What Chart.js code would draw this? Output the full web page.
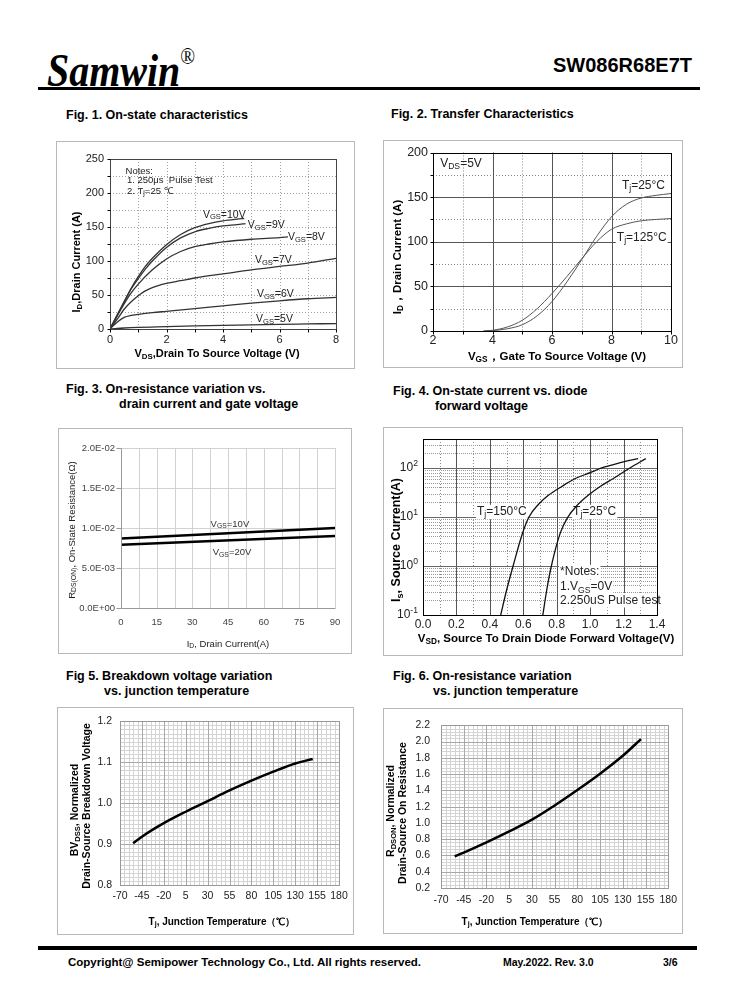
<!DOCTYPE html>
<html>
<head>
<meta charset="utf-8">
<script src="https://cdn.jsdelivr.net/npm/chart.js@4.4.0/dist/chart.umd.min.js"></script>
<style>
body { margin: 0; background: #fff; }
#page { position: relative; width: 738px; height: 1000px; overflow: hidden; background: #fff;
        font-family: "Liberation Sans", Arial, sans-serif; color: #000; }
.abs { position: absolute; white-space: nowrap; }
.box { position: absolute; border: 1.5px solid #b8b8b8; box-sizing: border-box; }
canvas { position: absolute; }
.fig { position: absolute; white-space: nowrap; font-weight: bold; font-size: 12.5px; line-height: 15px; }
</style>
</head>
<body>
<div id="page">
  <div class="abs" style="left:47px;top:33px;font:italic bold 47px 'Liberation Serif',serif;line-height:47px;transform:scaleX(0.85);transform-origin:0 0;">Samwin<span style="font-size:23px;vertical-align:22px;font-style:normal;font-weight:normal;">®</span></div>
  <div class="abs" style="right:46px;top:53px;font:bold 20px 'Liberation Sans',Arial,sans-serif;line-height:24px;">SW086R68E7T</div>
  <div class="abs" style="left:38px;top:87px;width:662px;height:3px;background:#000;"></div>

  <div class="fig" style="left:66px;top:108px;">Fig. 1. On-state characteristics</div>
  <div class="fig" style="left:391px;top:107px;">Fig. 2. Transfer Characteristics</div>
  <div class="fig" style="left:66px;top:382px;">Fig. 3. On-resistance variation vs.</div>
  <div class="fig" style="left:119px;top:397px;">drain current and gate voltage</div>
  <div class="fig" style="left:393px;top:384px;">Fig. 4. On-state current vs. diode</div>
  <div class="fig" style="left:435px;top:399px;">forward voltage</div>
  <div class="fig" style="left:66px;top:669px;">Fig 5. Breakdown voltage variation</div>
  <div class="fig" style="left:104px;top:684px;">vs. junction temperature</div>
  <div class="fig" style="left:393px;top:669px;">Fig. 6. On-resistance variation</div>
  <div class="fig" style="left:433px;top:684px;">vs. junction temperature</div>

  <div class="abs" style="left:38px;top:946px;width:659px;height:4px;background:#000;"></div>
  <div class="abs" style="left:68px;top:955px;font:bold 11.5px 'Liberation Sans',Arial,sans-serif;line-height:14px;">Copyright@ Semipower Technology Co., Ltd. All rights reserved.</div>
  <div class="abs" style="left:503px;top:956px;font:bold 10.5px 'Liberation Sans',Arial,sans-serif;line-height:13px;">May.2022. Rev. 3.0</div>
  <div class="abs" style="left:663px;top:956px;font:bold 10.5px 'Liberation Sans',Arial,sans-serif;line-height:13px;">3/6</div>
</div>

<script>
// ---- data ----
// Fig. 1  [VDS (V), ID (A)]
const f1Vgs10 = [[0,0],[0.25,20],[0.5,40],[0.75,60],[1,77],[1.25,92],[1.5,104],[2,124],[2.5,139],[3,149],[3.5,155],[4,159],[4.5,161.5],[4.75,162.5]];
const f1Vgs9  = [[0,0],[0.25,20],[0.5,40],[0.75,59],[1,74],[1.25,88],[1.5,100],[2,120],[2.5,134],[3,143],[3.5,148],[4,151.5],[4.5,153.5],[4.8,155]];
const f1Vgs8  = [[0,0],[0.25,19],[0.5,37],[0.75,53],[1,66],[1.5,87],[2,103],[2.5,114],[3,121],[3.5,125],[4,128],[5,132],[6,134.5],[6.3,135.5]];
const f1Vgs7  = [[0,0],[0.25,14],[0.5,29],[0.75,40],[1,49],[1.25,56],[1.5,61],[2,67],[2.5,71],[3,75],[4,81],[5,87],[6,92],[7,97],[8,104]];
const f1Vgs6  = [[0,0],[0.25,10],[0.5,17],[0.75,20],[1,21.5],[1.5,24],[2,26],[3,30],[4,34],[5,38],[6,41.5],[7,44.5],[8,46.5]];
const f1Vgs5  = [[0,0],[0.5,1.5],[1,2.5],[2,3.5],[3,4.5],[4,5.3],[5,6],[6,6.8],[7,7.4],[8,8]];
// Fig. 2  [VGS (V), ID (A)]
const f2Tj25  = [[3.7,0],[4,0.4],[4.5,2.5],[5,7],[5.5,17],[6,33],[6.5,55],[7,80],[7.5,106],[8,128],[8.5,142],[9,149],[9.5,152],[10,154]];
const f2Tj125 = [[3.7,0],[4,0.8],[4.5,4.5],[5,12],[5.5,25],[6,42],[6.5,61],[7,81],[7.5,100],[8,114],[8.5,120],[9,123.5],[9.5,125],[10,126]];
// Fig. 3  [ID (A), RDS(on) (ohm)]
const f3Vgs10 = [[0,0.0087],[90,0.0100]];
const f3Vgs20 = [[0,0.0079],[90,0.0090]];
// Fig. 4  [VSD (V), IS (A)]
const f4Tj150 = [[0.465,0.1],[0.5,0.32],[0.539,1],[0.594,4.5],[0.634,10],[0.69,18],[0.752,28],[0.83,42],[0.911,61],[1.0,80],[1.069,100],[1.18,128],[1.287,155]];
const f4Tj25  = [[0.717,0.1],[0.74,0.32],[0.768,1],[0.822,4.8],[0.867,10],[0.92,17],[0.99,28],[1.06,42],[1.139,61],[1.238,100],[1.333,155]];
// Fig. 5  [Tj (C), normalized BVDSS]
const f5Bv = [[-55,0.902],[-45,0.918],[-20,0.951],[5,0.979],[30,1.005],[55,1.031],[80,1.055],[105,1.077],[130,1.097],[150,1.108]];
// Fig. 6  [Tj (C), normalized RDS(on)]
const f6Rds = [[-55,0.59],[-45,0.635],[-20,0.76],[5,0.895],[30,1.04],[55,1.215],[80,1.405],[105,1.605],[130,1.825],[150,2.03]];
// tick labels for the log axis of Fig. 4
const f4YTicks = [[0.1,'10^{-1}'],[1,'10^{0}'],[10,'10^{1}'],[100,'10^{2}']];

const FONT = '"Liberation Sans", Arial, sans-serif';
Chart.defaults.font.family = FONT;

function steps(a, b, s) {
  const n = Math.round((b - a) / s), out = [];
  for (let i = 0; i <= n; i++) out.push(+(a + i * s).toFixed(6));
  return out;
}
function pts(arr) { return arr.map(p => ({x: p[0], y: p[1]})); }

function parseRich(s) {
  const out = [], re = /([_^])\{([^}]*)\}/g;
  let last = 0, m;
  while ((m = re.exec(s))) {
    if (m.index > last) out.push({t: s.slice(last, m.index), k: ''});
    out.push({t: m[2], k: m[1]});
    last = re.lastIndex;
  }
  if (last < s.length) out.push({t: s.slice(last), k: ''});
  return out;
}

function drawRich(ctx, s, x, y, o) {
  const size = o.size || 11;
  const font = sz => (o.bold ? 'bold ' : '') + sz + 'px ' + FONT;
  const parts = parseRich(s);
  let w = 0;
  parts.forEach(p => {
    p.sz = p.k ? size * 0.72 : size;
    ctx.font = font(p.sz);
    p.w = ctx.measureText(p.t).width;
    w += p.w;
  });
  ctx.save();
  ctx.translate(x, y);
  if (o.rotate) ctx.rotate(o.rotate);
  let cx = o.align === 'center' ? -w / 2 : o.align === 'right' ? -w : 0;
  if (o.bg) {
    ctx.fillStyle = o.bg;
    ctx.fillRect(cx - 1, -size * 0.6, w + 2, size * 1.2);
  }
  ctx.textBaseline = 'middle';
  ctx.textAlign = 'left';
  ctx.fillStyle = o.color || '#000';
  parts.forEach(p => {
    ctx.font = font(p.sz);
    const dy = p.k === '_' ? size * 0.25 : p.k === '^' ? -size * 0.33 : 0;
    ctx.fillText(p.t, cx, dy);
    cx += p.w;
  });
  ctx.restore();
}

// grid, frame, tick marks, in-plot labels and axis titles
function extras(cfg, box) {
  return {
    id: 'extras',
    beforeDatasetsDraw(chart) {
      const {ctx, chartArea: a} = chart;
      const sx = chart.scales.x, sy = chart.scales.y;
      ctx.save();
      (cfg.grid || []).forEach(g => {
        ctx.strokeStyle = g.color;
        ctx.lineWidth = 1;
        ctx.setLineDash(g.dash || []);
        g.values.forEach(v => {
          ctx.beginPath();
          if (g.axis === 'x') {
            const p = Math.round(sx.getPixelForValue(v)) + 0.5;
            ctx.moveTo(p, a.top); ctx.lineTo(p, a.bottom);
          } else {
            const p = Math.round(sy.getPixelForValue(v)) + 0.5;
            ctx.moveTo(a.left, p); ctx.lineTo(a.right, p);
          }
          ctx.stroke();
        });
      });
      ctx.setLineDash([]);
      (cfg.labels || []).forEach(l => {
        drawRich(ctx, l.t, sx.getPixelForValue(l.x), sy.getPixelForValue(l.y),
          {size: l.size || cfg.labelSize || 11, align: l.align || 'left', bg: l.bg, color: l.color || cfg.labelColor});
      });
      ctx.restore();
    },
    afterDatasetsDraw(chart) {
      const {ctx, chartArea: a} = chart;
      const sx = chart.scales.x, sy = chart.scales.y;
      ctx.save();
      const L = Math.round(a.left) + 0.5, R = Math.round(a.right) + 0.5;
      const T = Math.round(a.top) + 0.5, B = Math.round(a.bottom) + 0.5;
      if (cfg.frame) {
        ctx.strokeStyle = cfg.frame;
        ctx.lineWidth = 1;
        ctx.strokeRect(L, T, R - L, B - T);
      }
      if (cfg.axes) {
        ctx.strokeStyle = cfg.axes;
        ctx.lineWidth = 1;
        ctx.beginPath();
        ctx.moveTo(L, T); ctx.lineTo(L, B); ctx.lineTo(R, B);
        ctx.stroke();
      }
      (cfg.ticks || []).forEach(t => {
        ctx.strokeStyle = t.color || '#000';
        ctx.lineWidth = 1;
        t.values.forEach(v => {
          ctx.beginPath();
          if (t.axis === 'x') {
            const p = Math.round(sx.getPixelForValue(v)) + 0.5;
            ctx.moveTo(p, B); ctx.lineTo(p, B + t.len);
          } else {
            const p = Math.round(sy.getPixelForValue(v)) + 0.5;
            ctx.moveTo(L, p); ctx.lineTo(L - t.len, p);
          }
          ctx.stroke();
        });
      });
      (cfg.yTickText || []).forEach(t => {
        drawRich(ctx, t[1], a.left - cfg.yTickPad, sy.getPixelForValue(t[0]),
          {size: cfg.yTickSize, align: 'right', color: '#222'});
      });
      (cfg.titles || []).forEach(t => {
        drawRich(ctx, t.t, t.x - box[0], t.y - box[1],
          {size: t.size, bold: t.bold !== false, align: 'center', rotate: t.rot ? -Math.PI / 2 : 0, color: t.color || '#000'});
      });
      ctx.restore();
    }
  };
}

function makeChart(box, plot, sc, datasets, cfg) {
  const page = document.getElementById('page');
  const frame = document.createElement('div');
  frame.className = 'box';
  Object.assign(frame.style, {left: box[0] + 'px', top: box[1] + 'px', width: box[2] + 'px', height: box[3] + 'px'});
  page.appendChild(frame);
  const cv = document.createElement('canvas');
  cv.width = box[2]; cv.height = box[3];
  Object.assign(cv.style, {left: box[0] + 'px', top: box[1] + 'px'});
  page.appendChild(cv);

  const yW = plot[0] - box[0];
  const xH = box[1] + box[3] - plot[3];
  const axis = (o, horiz) => Object.assign({
    grid: {display: false, drawTicks: false},
    border: {display: false},
    afterFit: s => { if (horiz) s.height = xH; else s.width = yW; }
  }, o);

  return new Chart(cv.getContext('2d'), {
    type: 'scatter',
    data: {datasets: datasets.map(d => Object.assign({
      showLine: true, pointRadius: 0, fill: false, cubicInterpolationMode: 'monotone'
    }, d))},
    options: {
      responsive: false,
      animation: false,
      events: [],
      layout: {padding: {top: plot[1] - box[1], right: box[0] + box[2] - plot[2], left: 0, bottom: 0}},
      plugins: {legend: {display: false}, tooltip: {enabled: false}},
      scales: {x: axis(sc.x, true), y: axis(sc.y, false)}
    },
    plugins: [extras(cfg, box)]
  });
}

function tk(size, pad, color, cb) {
  return {font: {size: size}, padding: pad, color: color || '#222', autoSkip: false, maxRotation: 0, callback: cb};
}
const expFmt = v => {
  if (v === 0) return '0.0E+00';
  const e = Math.floor(Math.log10(v) + 1e-9);
  const m = v / Math.pow(10, e);
  return m.toFixed(1) + 'E' + (e < 0 ? '-' : '+') + String(Math.abs(e)).padStart(2, '0');
};

// ---- Fig. 1 ----
makeChart([56,141,299,228], [110,159,336,329],
  {x: {type: 'linear', min: 0, max: 8, ticks: Object.assign(tk(11, 4), {stepSize: 2})},
   y: {type: 'linear', min: 0, max: 250, ticks: Object.assign(tk(11, 6), {stepSize: 50})}},
  [f1Vgs10, f1Vgs9, f1Vgs8, f1Vgs7, f1Vgs6, f1Vgs5].map(c => ({data: pts(c), borderColor: '#333', borderWidth: 1.3})),
  {
    grid: [{axis: 'x', values: steps(1, 7, 1), color: '#a0a0a0', dash: [1, 2]},
           {axis: 'y', values: steps(25, 225, 25), color: '#a0a0a0', dash: [1, 2]}],
    frame: '#444',
    ticks: [{axis: 'x', values: steps(0, 8, 1), len: 3}, {axis: 'y', values: steps(0, 250, 25), len: 3}],
    labelSize: 10.5, labelColor: '#222',
    labels: [
      {x: 3.29, y: 168, t: 'V_{GS}=10V'}, {x: 4.88, y: 153, t: 'V_{GS}=9V'},
      {x: 6.30, y: 135, t: 'V_{GS}=8V'}, {x: 5.13, y: 101, t: 'V_{GS}=7V'},
      {x: 5.20, y: 51, t: 'V_{GS}=6V'}, {x: 5.17, y: 15, t: 'V_{GS}=5V'},
      {x: 0.55, y: 232, t: 'Notes:', size: 9.5}, {x: 0.6, y: 218, t: '1. 250μs  Pulse Test', size: 9.5},
      {x: 0.6, y: 203, t: '2. T_{j}=25 ℃', size: 9.5}
    ],
    titles: [{t: 'V_{DS},Drain To Source Voltage (V)', x: 217, y: 354, size: 11},
             {t: 'I_{D},Drain Current (A)', x: 77, y: 262, size: 11, rot: true}]
  });

// ---- Fig. 2 ----
makeChart([383,140,300,228], [433,152,671,331],
  {x: {type: 'linear', min: 2, max: 10, ticks: Object.assign(tk(12.5, 2), {stepSize: 2})},
   y: {type: 'linear', min: 0, max: 200, ticks: Object.assign(tk(12.5, 5), {stepSize: 50})}},
  [f2Tj25, f2Tj125].map(c => ({data: pts(c), borderColor: '#555', borderWidth: 1})),
  {
    grid: [{axis: 'x', values: [3, 5, 7, 9], color: '#888', dash: [1, 2]},
           {axis: 'y', values: [25, 75, 125, 175], color: '#888', dash: [1, 2]},
           {axis: 'x', values: [4, 6, 8], color: '#555'},
           {axis: 'y', values: [50, 100, 150], color: '#555'}],
    frame: '#000',
    ticks: [{axis: 'x', values: steps(2, 10, 1), len: 3}, {axis: 'y', values: steps(0, 200, 25), len: 3}],
    labelSize: 12, labelColor: '#222',
    labels: [
      {x: 2.24, y: 188, t: 'V_{DS}=5V'},
      {x: 8.35, y: 163, t: 'T_{j}=25°C', bg: '#fff'},
      {x: 8.18, y: 105, t: 'T_{j}=125°C', bg: '#fff'}
    ],
    titles: [{t: 'V_{GS}，Gate To Source Voltage (V)', x: 557, y: 357, size: 11.5},
             {t: 'I_{D}，Drain Current (A)', x: 398, y: 257, size: 11.5, rot: true}]
  });

// ---- Fig. 3 ----
makeChart([58,428,294,226], [121,448,335,608],
  {x: {type: 'linear', min: 0, max: 90, ticks: Object.assign(tk(9.5, 9, '#444'), {stepSize: 15})},
   y: {type: 'linear', min: 0, max: 0.02, ticks: Object.assign(tk(9.5, 6, '#444', expFmt), {stepSize: 0.005})}},
  [f3Vgs10, f3Vgs20].map(c => ({data: pts(c), borderColor: '#000', borderWidth: 2.5, cubicInterpolationMode: 'default'})),
  {
    grid: [{axis: 'x', values: steps(7.5, 90, 7.5), color: '#d2d2d2'},
           {axis: 'y', values: steps(0.005, 0.02, 0.005), color: '#d2d2d2'}],
    axes: '#999',
    ticks: [{axis: 'y', values: steps(0, 0.02, 0.005), len: 5, color: '#999'}],
    labelSize: 9.5, labelColor: '#333',
    labels: [{x: 45.8, y: 0.0105, t: 'V_{GS}=10V', align: 'center'},
             {x: 46.7, y: 0.0069, t: 'V_{GS}=20V', align: 'center'}],
    titles: [{t: 'I_{D}, Drain Current(A)', x: 228, y: 644, size: 9.5, bold: false, color: '#222'},
             {t: 'R_{DS(ON)}, On-State Resistance(Ω)', x: 72, y: 530, size: 9.5, bold: false, color: '#222', rot: true}]
  });

// ---- Fig. 4 ----
const f4Minor = [];
[0.1, 1, 10, 100].forEach(d => [2, 3, 4, 5, 6, 7, 8, 9].forEach(k => { if (k * d < 390) f4Minor.push(+(k * d).toFixed(4)); }));
makeChart([383,427,300,229], [423,439,657,615],
  {x: {type: 'linear', min: 0, max: 1.4, ticks: Object.assign(tk(12, 2, '#222', v => v.toFixed(1)), {stepSize: 0.2})},
   y: {type: 'logarithmic', min: 0.1, max: 390, ticks: {display: false}}},
  [f4Tj150, f4Tj25].map(c => ({data: pts(c), borderColor: '#111', borderWidth: 1.3})),
  {
    grid: [{axis: 'x', values: steps(0.1, 1.3, 0.2), color: '#888', dash: [1, 2]},
           {axis: 'y', values: f4Minor, color: '#999', dash: [1, 1]},
           {axis: 'x', values: steps(0.2, 1.2, 0.2), color: '#555'},
           {axis: 'y', values: [1, 10, 100], color: '#666'}],
    frame: '#000',
    yTickText: f4YTicks, yTickPad: 5, yTickSize: 12,
    labelSize: 12, labelColor: '#222',
    labels: [
      {x: 0.323, y: 12.6, t: 'T_{j}=150°C', bg: '#fff'},
      {x: 0.898, y: 12.6, t: 'T_{j}=25°C', bg: '#fff'},
      {x: 0.82, y: 0.75, t: '*Notes:', bg: '#fff'},
      {x: 0.82, y: 0.37, t: '1.V_{GS}=0V', bg: '#fff'},
      {x: 0.82, y: 0.2, t: '2.250uS Pulse test', bg: '#fff'}
    ],
    titles: [{t: 'V_{SD}, Source To Drain Diode Forward Voltage(V)', x: 546, y: 639, size: 11.5},
             {t: 'I_{s}, Source Current(A)', x: 397, y: 540, size: 12.5, rot: true}]
  });

// ---- Fig. 5 ----
makeChart([57,707,297,228], [120,721,339,885],
  {x: {type: 'linear', min: -70, max: 180, ticks: Object.assign(tk(10.5, 5), {stepSize: 25})},
   y: {type: 'linear', min: 0.8, max: 1.2, ticks: Object.assign(tk(10.5, 8, '#222', v => v.toFixed(1)), {stepSize: 0.1})}},
  [{data: pts(f5Bv), borderColor: '#000', borderWidth: 2.5}],
  {
    grid: [{axis: 'x', values: steps(-65, 175, 5), color: '#d4d4d4'},
           {axis: 'y', values: steps(0.81, 1.19, 0.01), color: '#d4d4d4'},
           {axis: 'x', values: steps(-45, 155, 25), color: '#a8a8a8'},
           {axis: 'y', values: [0.9, 1.0, 1.1], color: '#a8a8a8'}],
    frame: '#999',
    titles: [{t: 'T_{j}, Junction Temperature（℃）', x: 222, y: 922, size: 10},
             {t: 'BV_{DSS}, Normalized', x: 75, y: 810, size: 10.5, rot: true},
             {t: 'Drain-Source Breakdown Voltage', x: 87, y: 806, size: 10.5, rot: true}]
  });

// ---- Fig. 6 ----
makeChart([383,708,300,226], [441,719,669,888],
  {x: {type: 'linear', min: -70, max: 180, ticks: Object.assign(tk(10.5, 6), {stepSize: 25})},
   y: {type: 'linear', min: 0.2, max: 2.2, ticks: Object.assign(tk(10.5, 11, '#222', v => v.toFixed(1)), {stepSize: 0.2})}},
  [{data: pts(f6Rds), borderColor: '#000', borderWidth: 2.5}],
  {
    grid: [{axis: 'x', values: steps(-65, 175, 5), color: '#d4d4d4'},
           {axis: 'y', values: steps(0.24, 2.16, 0.04), color: '#d4d4d4'},
           {axis: 'x', values: steps(-45, 155, 25), color: '#a8a8a8'},
           {axis: 'y', values: steps(0.4, 2.0, 0.2), color: '#a8a8a8'}],
    frame: '#999',
    titles: [{t: 'T_{j}, Junction Temperature（℃）', x: 535, y: 922, size: 10},
             {t: 'R_{DSON}, Normalized', x: 391, y: 811, size: 10.5, rot: true},
             {t: 'Drain-Source On Resistance', x: 403, y: 813, size: 10.5, rot: true}]
  });
</script>
</body>
</html>
